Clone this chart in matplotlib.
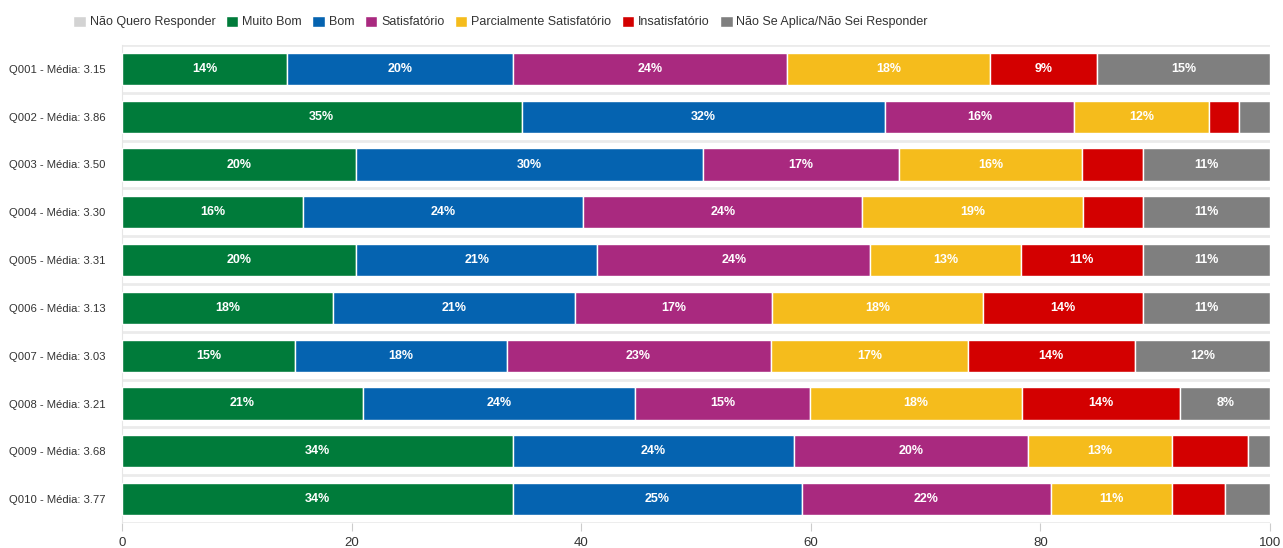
import numpy as np
import matplotlib.pyplot as plt

plt.rcParams['font.family'] = ['Liberation Sans', 'DejaVu Sans']

# perguntas e médias
questoes = ["Q001 - Média: 3.15", "Q002 - Média: 3.86", "Q003 - Média: 3.50",
            "Q004 - Média: 3.30", "Q005 - Média: 3.31", "Q006 - Média: 3.13",
            "Q007 - Média: 3.03", "Q008 - Média: 3.21", "Q009 - Média: 3.68",
            "Q010 - Média: 3.77"]

categorias = ["Não Quero Responder", "Muito Bom", "Bom", "Satisfatório",
              "Parcialmente Satisfatório", "Insatisfatório",
              "Não Se Aplica/Não Sei Responder"]

# percentuais
nao_quero = [0, 0, 0, 0, 0, 0, 0, 0, 0, 0]
muito_bom = [14.4, 34.8, 20.4, 15.8, 20.4, 18.4, 15.1, 21.0, 34.1, 34.1]
bom = [19.7, 31.7, 30.2, 24.4, 21.0, 21.1, 18.4, 23.7, 24.4, 25.1]
satisfatorio = [23.8, 16.4, 17.1, 24.3, 23.8, 17.1, 23.0, 15.2, 20.4, 21.7]
parcial = [17.7, 11.8, 15.9, 19.2, 13.1, 18.4, 17.2, 18.5, 12.6, 10.6]
insatisfatorio = [9.3, 2.6, 5.3, 5.2, 10.6, 13.9, 14.5, 13.8, 6.6, 4.6]
nao_se_aplica = [15.1, 2.7, 11.1, 11.1, 11.1, 11.1, 11.8, 7.8, 1.9, 3.9]

series = [nao_quero, muito_bom, bom, satisfatorio, parcial, insatisfatorio, nao_se_aplica]
cores = ["#d3d3d3", "#007b3a", "#0563b0", "#a9297f", "#f5bc1c", "#d30000", "#7f7f7f"]

fig = plt.figure(figsize=(12.83, 5.48), dpi=100)
ax = fig.add_axes([122/1283, 25/548, 1148/1283, 478/548])

y = np.arange(len(questoes))
esquerda = np.zeros(len(questoes))
handles = []
for vals, cor, nome in zip(series, cores, categorias):
    vals = np.array(vals)
    b = ax.barh(y, vals, left=esquerda, height=0.67, color=cor,
                edgecolor="white", linewidth=1, label=nome, zorder=3)
    handles.append(b)
    for yi, l, v in zip(y, esquerda, vals):
        if v >= 7.5:
            ax.text(l + v/2, yi, f"{v:.0f}%", ha="center", va="center",
                    color="white", fontsize=9, fontweight="bold", zorder=4)
    esquerda += vals

ax.set_xlim(0, 100)
ax.set_ylim(9.5, -0.5)
ax.set_yticks(y)
ax.set_yticklabels(questoes, fontsize=8.1, color="#333333")
ax.set_xticks([0, 20, 40, 60, 80, 100])
ax.tick_params(axis="y", length=0, pad=12)
ax.tick_params(axis="x", length=6, color="#cccccc", labelsize=9.5,
               labelcolor="#333333", pad=4)

# linhas entre as categorias
for g in np.arange(-0.5, len(questoes), 1.0):
    ax.axhline(g, color="#ebebeb", linewidth=2, zorder=1)

for s in ["top", "right", "bottom"]:
    ax.spines[s].set_visible(False)
ax.spines["left"].set_color("#e6e6e6")

fig.legend(handles=handles, labels=categorias, loc="center left",
           bbox_to_anchor=(62/1283, 1 - 22/548), ncol=7, frameon=False,
           fontsize=9, handlelength=1.0, handleheight=1.0,
           handletextpad=0.3, columnspacing=0.85, labelcolor="#333333")

fig.savefig("out.png", dpi=100)
